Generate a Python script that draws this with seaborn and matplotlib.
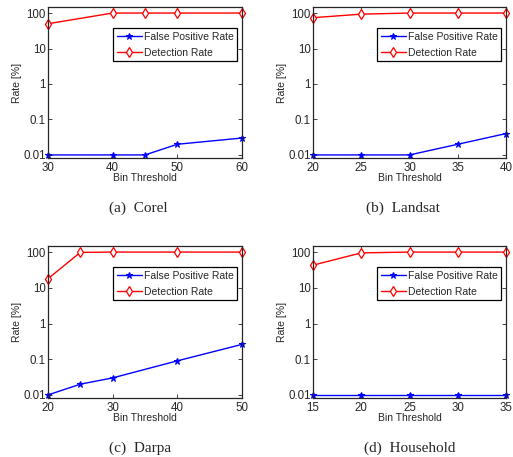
import numpy as np
import pandas as pd
import seaborn as sns
import matplotlib.pyplot as plt

# Dane
corel_x = [30, 40, 45, 50, 60]
corel_fpr = [0.01, 0.01, 0.01, 0.02, 0.03]
corel_dr = [50, 100, 100, 100, 100]

landsat_x = [20, 25, 30, 35, 40]
landsat_fpr = [0.01, 0.01, 0.01, 0.02, 0.04]
landsat_dr = [74, 93, 100, 100, 100]

darpa_x = [20, 25, 30, 40, 50]
darpa_fpr = [0.01, 0.02, 0.03, 0.09, 0.26]
darpa_dr = [18, 98, 100, 100, 100]

household_x = [15, 20, 25, 30, 35]
household_fpr = [0.01, 0.01, 0.01, 0.01, 0.01]
household_dr = [43, 95, 100, 100, 100]

x_ticks = {
    'Corel': [30, 40, 50, 60],
    'Landsat': [20, 25, 30, 35, 40],
    'Darpa': [20, 30, 40, 50],
    'Household': [15, 20, 25, 30, 35],
}
y_ticks = [0.01, 0.1, 1, 10, 100]
y_labels = ['0.01', '0.1', '1', '10', '100']

panels = [
    ('(a)  Corel', 'Corel', corel_x, corel_fpr, corel_dr),
    ('(b)  Landsat', 'Landsat', landsat_x, landsat_fpr, landsat_dr),
    ('(c)  Darpa', 'Darpa', darpa_x, darpa_fpr, darpa_dr),
    ('(d)  Household', 'Household', household_x, household_fpr, household_dr),
]

sns.set_style("ticks")
plt.rcParams['font.family'] = ['Liberation Sans', 'DejaVu Sans']

W, H = 513, 457
fig = plt.figure(figsize=(W / 100, H / 100), dpi=100)

# pozycje osi w pikselach (lewo, prawo, góra, dół)
boxes = [
    (48, 242, 7, 158),
    (313, 506, 7, 158),
    (48, 242, 246, 398),
    (313, 506, 246, 398),
]
captions_xy = [(138, 208), (403, 208), (140, 448), (410, 448)]

for (caption, key, xs, fpr, dr), (l, r, t, b), (cx, cy) in zip(panels, boxes, captions_xy):
    ax = fig.add_axes([l / W, 1 - b / H, (r - l) / W, (b - t) / H])
    df = pd.DataFrame({'x': xs, 'fpr': fpr, 'dr': dr})
    sns.lineplot(data=df, x='x', y='fpr', ax=ax, color='blue', marker='*',
                 markersize=5, markeredgecolor='blue', linewidth=1,
                 label='False Positive Rate', clip_on=False)
    sns.lineplot(data=df, x='x', y='dr', ax=ax, color='red', marker='d',
                 markersize=5, markerfacecolor='white', markeredgecolor='red',
                 markeredgewidth=0.9, linewidth=1, label='Detection Rate',
                 clip_on=False)
    ax.set_yscale('log')
    ax.set_ylim(0.0082, 148)
    ax.set_xlim(xs[0], xs[-1])
    ax.set_yticks(y_ticks)
    ax.set_yticklabels(y_labels)
    ax.minorticks_off()
    ax.set_xticks(x_ticks[key])
    ax.tick_params(direction='in', top=True, right=True, labelsize=8.3,
                   length=3, width=0.6, pad=1.5)
    ax.tick_params(axis='x', pad=3)
    for s in ax.spines.values():
        s.set_linewidth(0.9)
    ax.set_xlabel('Bin Threshold', fontsize=7.5, labelpad=-1)
    ax.set_ylabel('Rate [%]', fontsize=7.5, labelpad=1)
    leg = ax.legend(loc='upper right', bbox_to_anchor=(0.975, 0.86), fontsize=7.5,
                    frameon=True, fancybox=False, edgecolor='black',
                    handlelength=2.4, borderpad=0.35, labelspacing=0.55,
                    handletextpad=0.2, borderaxespad=0, framealpha=1)
    leg.get_frame().set_linewidth(0.9)
    fig.text(cx / W, 1 - cy / H, caption, ha='center', va='center', fontsize=11,
             family=['Liberation Serif', 'DejaVu Serif'])

fig.savefig('out.png', dpi=100)
